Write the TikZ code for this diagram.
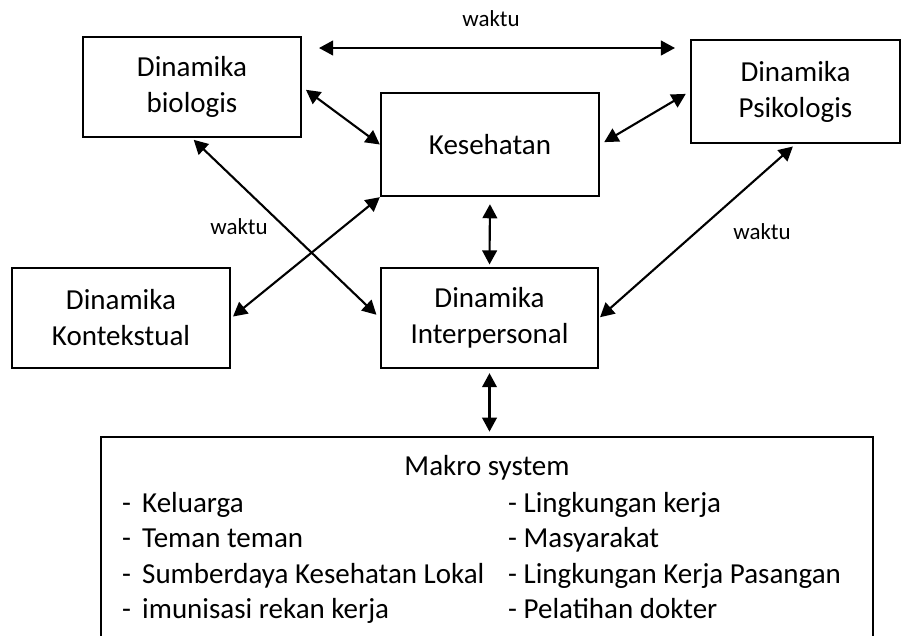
\documentclass[tikz,border=0pt]{standalone}
\usepackage{fontspec}
\setmainfont{Carlito}
\usepackage{tikz}
\usetikzlibrary{arrows.meta}
\tikzset{
every picture/.style={x=0.03cm, y=-0.03cm},
%%%%%%%%%%  Node styles
dyn_box/.style={draw, line width=2pt, align=center, inner sep=0pt,
                font=\fontsize{24.75pt}{30.7pt}\selectfont},
list_text/.style={anchor=base west, inner sep=0pt,
                  font=\fontsize{24.75pt}{30pt}\selectfont},
time_label/.style={inner sep=0pt, font=\fontsize{19.6pt}{24pt}\selectfont},
%%%% arrows, both ends
both_arrow/.style={line width=1.8pt,
                   >={Triangle[length=12pt,width=12.5pt]}, <->},
}

\begin{document}
\begin{tikzpicture}
\useasboundingbox (0,0) rectangle (901,635);
%%%% the five dynamics
\node[dyn_box, minimum width=6.54cm, minimum height=3cm] (bio) at (192,87) {Dinamika\\biologis};
\node[dyn_box, minimum width=6.54cm, minimum height=3.09cm] (kes) at (490,144.5) {Kesehatan};
\node[dyn_box, minimum width=6.27cm, minimum height=3.09cm] (psi) at (795.5,91.5) {Dinamika\\Psikologis};
\node[dyn_box, minimum width=6.54cm, minimum height=3cm] (kon) at (121,318) {Dinamika\\Kontekstual};
\node[dyn_box, minimum width=6.51cm, minimum height=3cm] (inter) at (489.5,318) {Dinamika\\Interpersonal};
%%%% makro system, runs off the page at the bottom
\node[draw, line width=2pt, minimum width=23.16cm, minimum height=7.9cm] (makro) at (487,568.5) {};
\node[list_text, anchor=base] (makro_title) at (487,475) {Makro system};
\foreach \txt [count=\i] in {Keluarga, Teman teman, Sumberdaya Kesehatan Lokal, imunisasi rekan kerja}
  \node[list_text] (left_\i) at (122,476.5+35.5*\i) {-\hspace{9.5pt}\txt};
\foreach \txt [count=\i] in {Lingkungan kerja, Masyarakat, Lingkungan Kerja Pasangan, Pelatihan dokter}
  \node[list_text] (right_\i) at (508,476.5+35.5*\i) {- \txt};
%%%% waktu
\node[time_label] (waktu_top) at (491,19) {waktu};
\node[time_label] (waktu_left) at (239,227) {waktu};
\node[time_label] (waktu_right) at (762,232) {waktu};
\coordinate (t_west) at (319,48);
\coordinate (t_east) at (675,48);
\draw[both_arrow] (t_west) -- (t_east);
%%%% connections
\draw[both_arrow, shorten <=4pt] (bio.east) -- (kes.west);
\draw[both_arrow, shorten <=4pt, shorten >=4pt] (kes.east) -- (psi.west);
\draw[both_arrow, shorten <=6pt, shorten >=2pt] (kes.south) -- (inter.north);
\draw[both_arrow, shorten <=2pt, shorten >=4pt] (bio.south) -- (inter.west);
\draw[both_arrow, shorten <=2pt] (kon.east) -- (kes.south west);
\draw[both_arrow, shorten <=3pt, shorten >=1pt] (psi.south) -- (inter.east);
\draw[both_arrow, shorten <=3.4pt, shorten >=3.4pt] (inter.south) -- (inter.south |- makro.north);
\end{tikzpicture}
\end{document}
